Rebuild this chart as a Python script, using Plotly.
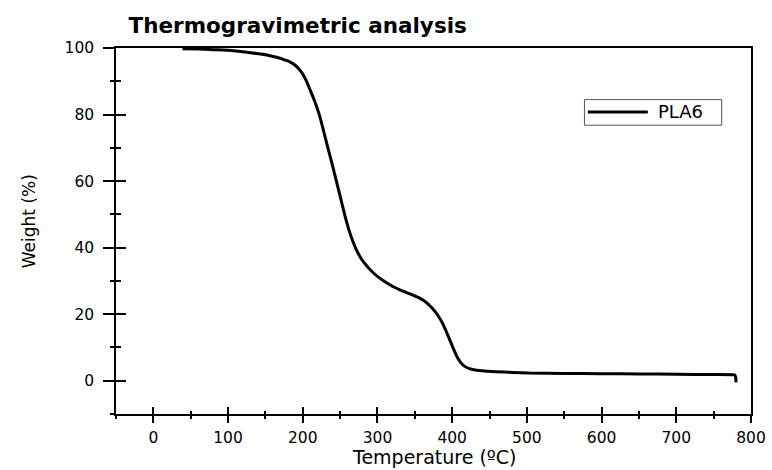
import plotly.graph_objects as go

series_name = "PLA6"
temperature = [39, 60, 80, 107, 130, 152, 165, 174, 180, 186, 192, 198, 204, 210, 216, 223, 232,
               240, 250, 256, 262, 267.5, 274, 281, 295, 307.5, 320, 334, 346, 356, 366, 374,
               381, 387.5, 394, 401, 407, 414, 420, 427.5, 440, 459, 503, 550, 600, 650, 700,
               750, 776, 778.5, 779.5, 780]
weight = [99.8, 99.7, 99.5, 99.2, 98.6, 97.9, 97.2, 96.6, 96.1, 95.4, 94.4, 92.8, 90.5, 87.3,
          84.0, 79.3, 71.4, 64.5, 55.5, 50.0, 45.2, 41.6, 38.3, 35.8, 32.3, 30.1, 28.4, 26.9,
          25.9, 24.9, 23.4, 21.6, 19.6, 17.1, 13.8, 10.0, 7.0, 4.8, 3.9, 3.4, 3.0, 2.7, 2.3,
          2.2, 2.1, 2.05, 1.95, 1.85, 1.8, 1.7, 1.0, -0.5]

x_range = [-50, 800]
y_range = [-10, 100]

FONT = "DejaVu Sans"

fig = go.Figure()
fig.add_trace(go.Scatter(x=temperature, y=weight, mode="lines", name=series_name,
                         line=dict(color="black", width=3, shape="spline", smoothing=0.5),
                         showlegend=False))
# empty trace to activate the inside-tick overlay axes
fig.add_trace(go.Scatter(x=[], y=[], xaxis="x2", yaxis="y2", showlegend=False))

axis_common = dict(showgrid=False, zeroline=False, color="black", automargin=False)

fig.update_layout(
    template="none",
    width=772, height=470,
    margin=dict(l=115.5, r=21, t=48, b=56, autoexpand=False),
    paper_bgcolor="white", plot_bgcolor="white",
    font=dict(family=FONT, color="black", size=16),
    xaxis=dict(range=x_range, dtick=100, tick0=0, ticks="outside", ticklen=7, tickwidth=1.5,
               tickcolor="black", showline=True, linewidth=1.5, linecolor="black", mirror=True,
               minor=dict(ticks="outside", ticklen=3.5, dtick=50, tick0=0, tickwidth=1.5,
                          tickcolor="black"),
               tickfont=dict(family=FONT, size=15.5), ticklabelstandoff=2, **axis_common),
    yaxis=dict(range=y_range, dtick=20, tick0=0, ticks="outside", ticklen=11, tickwidth=1.5,
               tickcolor="black", showline=True, linewidth=1.5, linecolor="black", mirror=True,
               minor=dict(ticks="outside", ticklen=4.5, dtick=10, tick0=0, tickwidth=1.5,
                          tickcolor="black"),
               tickfont=dict(family=FONT, size=15.5), ticklabelstandoff=6, **axis_common),
    xaxis2=dict(range=x_range, overlaying="x", dtick=100, tick0=0, ticks="inside", ticklen=7,
                tickwidth=1.5, tickcolor="black", showticklabels=False, showline=False,
                minor=dict(ticks="inside", ticklen=3.5, dtick=50, tick0=0, tickwidth=1.5,
                           tickcolor="black"), **axis_common),
    yaxis2=dict(range=y_range, overlaying="y", dtick=20, tick0=0, ticks="inside", ticklen=10,
                tickwidth=1.5, tickcolor="black", showticklabels=False, showline=False,
                minor=dict(ticks="inside", ticklen=4.5, dtick=10, tick0=0, tickwidth=1.5,
                           tickcolor="black"), **axis_common),
    title=dict(text="<b>Thermogravimetric analysis</b>", font=dict(family=FONT, size=21.5),
               xref="paper", x=0.0197, xanchor="left", yref="container", y=1 - 25 / 470,
               yanchor="middle"),
    showlegend=False,
)

# axis titles
fig.add_annotation(text="Temperature (ºC)", xref="paper", yref="paper", x=0.5, y=-0.1185,
                   xanchor="center", yanchor="middle", showarrow=False,
                   font=dict(family=FONT, size=19))
fig.add_annotation(text="Weight (%)", xref="paper", yref="paper", x=-0.1377, y=0.5255,
                   xanchor="center", yanchor="middle", textangle=-90, showarrow=False,
                   font=dict(family=FONT, size=17))

# legend box drawn manually (long line sample)
fig.add_shape(type="rect", xref="paper", yref="paper", x0=0.7377, x1=0.9539, y0=0.789, y1=0.859,
              line=dict(color="#555555", width=1), fillcolor="white")
fig.add_shape(type="line", xref="paper", yref="paper", x0=0.743, x1=0.8375, y0=0.8253, y1=0.8253,
              line=dict(color="black", width=3))
fig.add_annotation(text=series_name, xref="paper", yref="paper", x=0.8505, y=0.8253,
                   xanchor="left", yanchor="middle", showarrow=False,
                   font=dict(family=FONT, size=18))

fig.write_html("out.html")
